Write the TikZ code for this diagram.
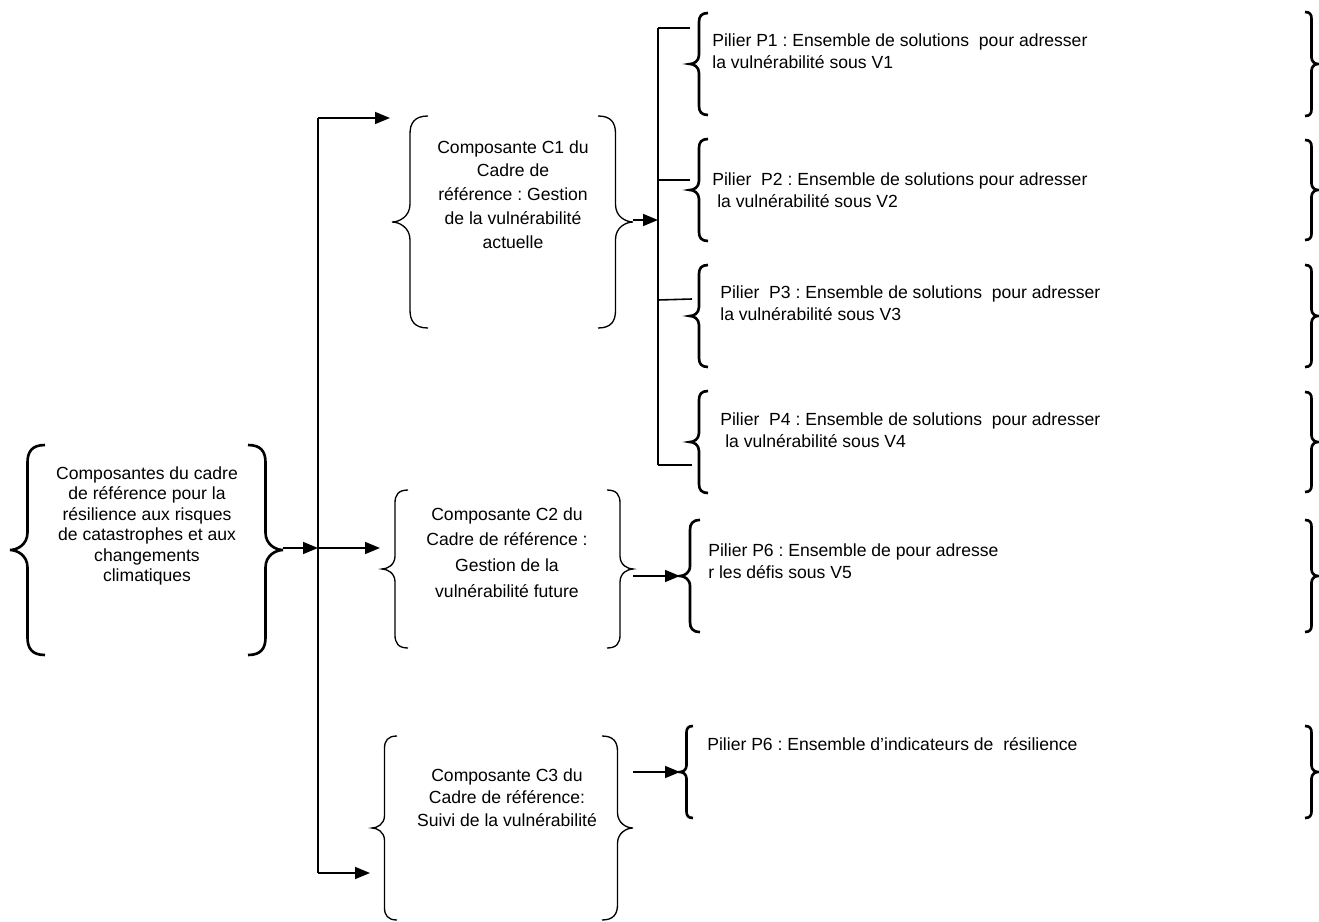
\documentclass[tikz,border=0pt]{standalone}
\usepackage{fontspec}
\setmainfont{Liberation Sans}
\usetikzlibrary{arrows.meta}
\frenchspacing

\tikzset{
	boxtext/.style={inner sep=0pt, align=center, anchor=north, font=\fontsize{10}{#1}\selectfont},
	piltext/.style={inner sep=0pt, align=left, anchor=north west, font=\fontsize{10}{13}\selectfont},
	% curly bracket: tip at the origin, #1 = half height, #2 = width
	pics/curly/.style 2 args={code={
		\draw ({#2},{-#1}) .. controls ({#2*0.62},{-#1}) and ({#2/2},{-#1+#2*0.2}) .. ({#2/2},{-#1+#2/2})
			-- ({#2/2},{-#2/2}) .. controls ({#2/2},{-#2*0.15}) and ({#2*0.2},0) .. (0,0)
			.. controls ({#2*0.2},0) and ({#2/2},{#2*0.15}) .. ({#2/2},{#2/2})
			-- ({#2/2},{#1-#2/2}) .. controls ({#2/2},{#1-#2*0.2}) and ({#2*0.62},{#1}) .. ({#2},{#1});
	}},
	thinbr/.style={line width=0.75pt},
	thickbr/.style={line width=1.5pt},
	closebr/.style={xscale=-1},
	conn/.style={line width=0.9pt},
	arr/.style={conn, -{Triangle[length=3mm,width=2.4mm]}}
}

\begin{document}
\begin{tikzpicture}[x=0.2mm, y=-0.2mm]
		\useasboundingbox (0,0) rectangle (1319,922);
		% Nodes
		\node[boxtext=11.7] (main) at (147,466) {Composantes du cadre\\de référence pour la\\résilience aux risques\\de catastrophes et aux\\changements\\climatiques};
		\node[boxtext=13.6] (c1) at (513,140) {Composante C1 du\\Cadre de\\référence : Gestion\\de la vulnérabilité\\actuelle};
		\node[boxtext=14.6] (c2) at (507,507) {Composante C2 du\\Cadre de référence :\\Gestion de la\\vulnérabilité future};
		\node[boxtext=12.8] (c3) at (507,768) {Composante C3 du\\Cadre de référence:\\Suivi de la vulnérabilité};
		\node[piltext] (p1) at (712,33) {Pilier P1 : Ensemble de solutions\ \ pour adresser\\la vulnérabilité sous V1};
		\node[piltext] (p2) at (712,172) {Pilier\ \ P2 : Ensemble de solutions pour adresser\\\hspace*{0.28em}la vulnérabilité sous V2};
		\node[piltext] (p3) at (720,285) {Pilier\ \ P3 : Ensemble de solutions\ \ pour adresser\\la vulnérabilité sous V3};
		\node[piltext] (p4) at (720,412) {Pilier\ \ P4 : Ensemble de solutions\ \ pour adresser\\\hspace*{0.28em}la vulnérabilité sous V4};
		\node[piltext] (p5) at (708,543) {Pilier P6 : Ensemble de pour adresse\\r les défis sous V5};
		\node[piltext] (p6) at (707,737) {Pilier P6 : Ensemble d’indicateurs de\ \ résilience};
		% Braces
		\pic[thickbr] at (10,550) {curly={105}{35}};
		\pic[thickbr, closebr] at (283,550) {curly={105}{35}};
		\pic[thinbr] at (392,222) {curly={106}{36}};
		\pic[thinbr, closebr] at (633,222) {curly={106}{35}};
		\pic[thinbr] at (382,569) {curly={79}{26}};
		\pic[thinbr, closebr] at (633,569) {curly={79}{26}};
		\pic[thinbr] at (372,828) {curly={92}{25}};
		\pic[thinbr, closebr] at (633,828) {curly={92}{31}};
		\foreach \m in {64, 190, 316, 442}
			\pic[thickbr] at (690,\m) {curly={51}{18}};
		\pic[thickbr] at (680,576) {curly={56}{20}};
		\pic[thickbr] at (680,772) {curly={46}{13}};
		\foreach \m/\h in {64/52, 190/50, 316/51, 442/50, 576/56, 772/46}
			\pic[thickbr, closebr] at (1318,\m) {curly={\h}{13}};
		% Junctions
		\coordinate (mainR) at (283,548);
		\coordinate (s1top) at (318,118);
		\coordinate (s1mid) at (318,548);
		\coordinate (s1bot) at (318,873);
		\coordinate (c1in) at (390,118);
		\coordinate (c2in) at (380,548);
		\coordinate (c3in) at (370,873);
		\coordinate (c1R) at (633,220);
		\coordinate (s2mid) at (658,220);
		\coordinate (s2a) at (658,28);
		\coordinate (s2b) at (658,180);
		\coordinate (s2c) at (658,300);
		\coordinate (s2d) at (658,465);
		\coordinate (p1in) at (690,28);
		\coordinate (p2in) at (690,180);
		\coordinate (p3in) at (692,299);
		\coordinate (p4in) at (692,465);
		\coordinate (c2R) at (633,576);
		\coordinate (p5in) at (680,576);
		\coordinate (c3R) at (633,772);
		\coordinate (p6in) at (680,772);
		% Arrows
		\draw[conn] (s1top) -- (s1bot);
		\draw[arr] (mainR) -- (s1mid);
		\draw[arr] (s1top) -- (c1in);
		\draw[arr] (s1mid) -- (c2in);
		\draw[arr] (s1bot) -- (c3in);
		\draw[arr] (c1R) -- (s2mid);
		\draw[conn] (s2a) -- (s2d);
		\draw[conn] (s2a) -- (p1in);
		\draw[conn] (s2b) -- (p2in);
		\draw[conn] (s2c) -- (p3in);
		\draw[conn] (s2d) -- (p4in);
		\draw[arr] (c2R) -- (p5in);
		\draw[arr] (c3R) -- (p6in);
	\end{tikzpicture}
\end{document}
